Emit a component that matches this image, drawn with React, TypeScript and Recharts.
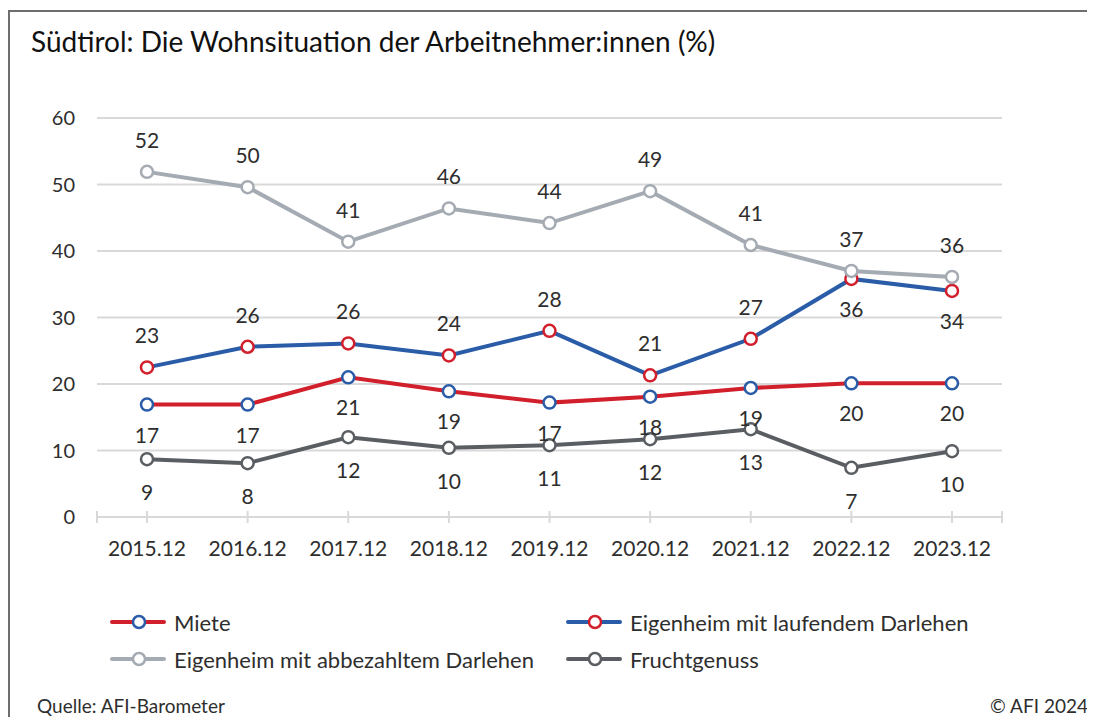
import { LineChart, Line, XAxis, YAxis, CartesianGrid } from "recharts";

const YEARS = ["2015.12", "2016.12", "2017.12", "2018.12", "2019.12", "2020.12", "2021.12", "2022.12", "2023.12"];
const MIETE = [16.9, 16.9, 21.0, 18.9, 17.2, 18.1, 19.4, 20.1, 20.1];
const LAUFEND = [22.5, 25.6, 26.1, 24.3, 28.0, 21.3, 26.8, 35.8, 34.0];
const ABBEZAHLT = [51.9, 49.6, 41.4, 46.4, 44.2, 49.0, 40.9, 37.0, 36.1];
const FRUCHT = [8.7, 8.1, 12.0, 10.4, 10.8, 11.7, 13.2, 7.4, 9.9];
const Y_TICKS = [0, 10, 20, 30, 40, 50, 60];
// where the "laufend" labels sit under the point instead of above
const LAUFEND_BELOW = ["2022.12", "2023.12"];

const RED = "#d21f2c";
const BLUE = "#2a5ca8";
const LIGHT = "#a5abb2";
const DARK = "#5a5e63";
const GRID = "#d9d9d9";
const TEXT = "#2e2e2e";
const FONT = "Lato, 'Noto Sans', sans-serif";

const data = YEARS.map((year, i) => ({
  year,
  miete: MIETE[i],
  laufend: LAUFEND[i],
  abbezahlt: ABBEZAHLT[i],
  frucht: FRUCHT[i],
}));

const X_TICK_MARGIN = 2;

function XTick(props: any) {
  const { x, y, payload } = props;
  const axisY = y - X_TICK_MARGIN;
  return (
    <g>
      <line x1={x} x2={x} y1={axisY - 6} y2={axisY + 6} stroke={GRID} strokeWidth={2} />
      <text x={x} y={axisY + 39} textAnchor="middle" fill={TEXT} fontSize={21}>
        {payload.value}
      </text>
    </g>
  );
}

function makeLabel(place: (index: number) => "above" | "below", gap: number) {
  return (props: any) => {
    const { x, y, value, index } = props;
    if (x == null || y == null) return null;
    const below = place(index) === "below";
    return (
      <text
        key={`l-${index}`}
        x={x}
        y={below ? y + gap + 7 : y - gap + 7}
        textAnchor="middle"
        fill={TEXT}
        fontSize={21}
      >
        {Math.round(Number(value))}
      </text>
    );
  };
}

const LEGEND = [
  { name: "Miete", line: RED, ring: BLUE, left: 102, top: 605 },
  { name: "Eigenheim mit laufendem Darlehen", line: BLUE, ring: RED, left: 558, top: 605 },
  { name: "Eigenheim mit abbezahltem Darlehen", line: LIGHT, ring: LIGHT, left: 102, top: 642 },
  { name: "Fruchtgenuss", line: DARK, ring: DARK, left: 558, top: 642 },
];

export default function App() {
  return (
    <div
      style={{
        position: "relative",
        width: 1087,
        height: 709,
        overflow: "hidden",
        fontFamily: FONT,
        color: TEXT,
      }}
    >
      <div
        style={{
          position: "absolute",
          left: 0,
          top: 2,
          width: 1150,
          height: 800,
          borderTop: "2px solid #6e6e6e",
          borderLeft: "2px solid #6e6e6e",
          boxSizing: "border-box",
        }}
      />
      <div
        style={{
          position: "absolute",
          left: 23,
          top: 19,
          fontSize: 28,
          lineHeight: 1,
          whiteSpace: "nowrap",
          color: "#111",
        }}
      >
        Südtirol: Die Wohnsituation der Arbeitnehmer:innen (%)
      </div>

      <div style={{ position: "absolute", left: 0, top: 0 }}>
        <LineChart width={1087} height={580} data={data} margin={{ top: 110, right: 93, bottom: 0, left: 29 }}>
          <CartesianGrid vertical={false} stroke={GRID} strokeWidth={2} />
          <XAxis
            dataKey="year"
            height={71}
            padding={{ left: 50, right: 50 }}
            axisLine={{ stroke: GRID, strokeWidth: 2 }}
            tickLine={false}
            tickSize={0}
            tickMargin={X_TICK_MARGIN}
            tick={<XTick />}
            interval={0}
          />
          <YAxis
            width={60}
            domain={[0, 60]}
            ticks={Y_TICKS}
            axisLine={false}
            tickLine={false}
            tickSize={0}
            tickMargin={22}
            tick={{ fill: TEXT, fontSize: 20 }}
          />
          <Line
            dataKey="frucht"
            stroke={DARK}
            strokeWidth={4}
            dot={{ r: 6, fill: "#fff", stroke: DARK, strokeWidth: 2.5 }}
            activeDot={false}
            isAnimationActive={false}
            label={makeLabel(() => "below", 34)}
          />
          <Line
            dataKey="miete"
            stroke={RED}
            strokeWidth={4}
            dot={{ r: 6, fill: "#fff", stroke: BLUE, strokeWidth: 2.5 }}
            activeDot={false}
            isAnimationActive={false}
            label={makeLabel(() => "below", 31)}
          />
          <Line
            dataKey="laufend"
            stroke={BLUE}
            strokeWidth={4}
            dot={{ r: 6, fill: "#fff", stroke: RED, strokeWidth: 2.5 }}
            activeDot={false}
            isAnimationActive={false}
            label={makeLabel((i) => (LAUFEND_BELOW.includes(YEARS[i]) ? "below" : "above"), 31)}
          />
          <Line
            dataKey="abbezahlt"
            stroke={LIGHT}
            strokeWidth={4}
            dot={{ r: 6, fill: "#fff", stroke: LIGHT, strokeWidth: 2.5 }}
            activeDot={false}
            isAnimationActive={false}
            label={makeLabel(() => "above", 31)}
          />
        </LineChart>
      </div>

      {/* end ticks of the category axis */}
      <div style={{ position: "absolute", left: 88, top: 503, width: 2, height: 12, background: GRID }} />
      <div style={{ position: "absolute", left: 993, top: 503, width: 2, height: 12, background: GRID }} />

      {LEGEND.map((item) => (
        <div
          key={item.name}
          style={{
            position: "absolute",
            left: item.left,
            top: item.top,
            display: "flex",
            alignItems: "center",
            height: 18,
            fontSize: 22,
            whiteSpace: "nowrap",
          }}
        >
          <svg width={56} height={16} style={{ marginRight: 8 }}>
            <line x1={2} x2={54} y1={8} y2={8} stroke={item.line} strokeWidth={4} strokeLinecap="round" />
            <circle cx={29} cy={8} r={6} fill="#fff" stroke={item.ring} strokeWidth={2.5} />
          </svg>
          <span>{item.name}</span>
        </div>
      ))}

      <div style={{ position: "absolute", left: 29, top: 688, fontSize: 19, lineHeight: 1 }}>Quelle: AFI-Barometer</div>
      <div style={{ position: "absolute", right: 7, top: 688, fontSize: 19, lineHeight: 1 }}>© AFI 2024</div>
    </div>
  );
}
